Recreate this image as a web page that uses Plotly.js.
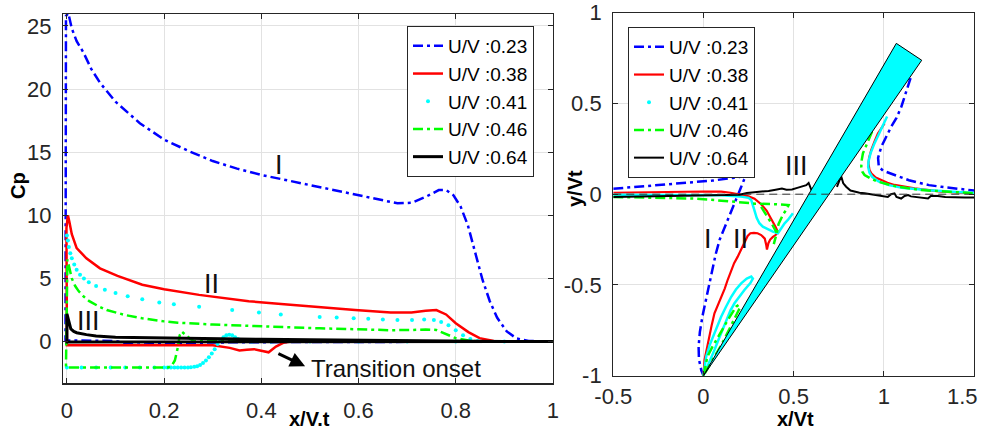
<!DOCTYPE html>
<html><head><meta charset="utf-8">
<script src="https://cdn.plot.ly/plotly-3.0.1.min.js"></script>
<style>html,body{margin:0;padding:0;background:#fff}#chart{width:982px;height:432px}</style>
</head><body><div id="chart"></div>
<script>
const seriesNames = ['U/V :0.23', 'U/V :0.38', 'U/V :0.41', 'U/V :0.46', 'U/V :0.64'];
const seriesColors = ['#0000ff', '#ff0000', '#00ffff', '#00ff00', '#000000'];

// ---- Left panel: Cp vs x/V.t ----
const leftXTicks = [0, 0.2, 0.4, 0.6, 0.8, 1];
const leftXTickText = ['0', '0.2', '0.4', '0.6', '0.8', '1'];
const leftYTicks = [0, 5, 10, 15, 20, 25];
const leftYTickText = ['0', '5', '10', '15', '20', '25'];

const cp023X = [1.0,0.9,0.8,0.6,0.45,0.35,0.25,0.18,0.14,0.1,0.05,0.0,-0.003,-0.002,0.003,0.01,0.02,0.034,0.05,0.068,0.1,0.15,0.2,0.25,0.3,0.35,0.4,0.45,0.5,0.55,0.6,0.64,0.68,0.71,0.74,0.765,0.78,0.795,0.81,0.825,0.84,0.855,0.87,0.885,0.905,0.925,0.95,0.98,1.0];
const cp023Y = [0,0,0,0,-0.05,-0.05,-0.1,-0.2,-0.25,0.05,0.1,0.1,0.1,25.8,26.0,24.8,23.8,22.9,21.6,20.5,19.0,17.3,16.0,15.1,14.3,13.7,13.2,12.8,12.4,12.0,11.6,11.3,10.95,11.0,11.5,12.0,12.0,11.6,10.7,9.2,7.0,4.9,3.2,1.9,0.8,0.25,0.05,0,0];

const cp038X = [1.0,0.6,0.46,0.445,0.43,0.415,0.40,0.385,0.37,0.355,0.335,0.315,0.3,0.2,0.1,0.0,-0.001,0.002,0.005,0.01,0.02,0.04,0.068,0.104,0.155,0.2,0.272,0.33,0.374,0.447,0.52,0.593,0.666,0.709,0.738,0.76,0.78,0.80,0.826,0.849,0.878,0.92,1.0];
const cp038Y = [0,0,0,-0.1,-0.4,-0.85,-0.7,-0.6,-0.65,-0.7,-0.5,-0.4,-0.3,-0.3,-0.3,-0.3,9.0,10.0,9.5,8.5,7.4,6.6,5.8,5.2,4.5,4.15,3.7,3.45,3.2,2.95,2.7,2.5,2.3,2.3,2.45,2.5,2.15,1.45,0.75,0.27,0.05,0,0];

const cp041UpX = [0.0,0.002,0.004,0.007,0.01,0.015,0.02,0.027,0.035,0.045,0.06,0.078,0.1,0.125,0.155,0.19,0.22,0.272,0.34,0.395,0.44,0.52,0.555,0.59,0.62,0.65,0.68,0.71,0.735,0.755,0.77,0.785,0.8,0.815,0.83,0.845];
const cp041UpY = [8.4,8.0,7.5,7.0,6.6,6.1,5.7,5.3,5.0,4.7,4.4,4.1,3.85,3.6,3.35,3.1,2.95,2.75,2.5,2.3,2.15,1.95,1.9,1.85,1.8,1.75,1.7,1.7,1.75,1.7,1.55,1.3,0.9,0.5,0.2,0.05];
const cp041LowX = [0.0,0.03,0.06,0.09,0.12,0.15,0.18,0.2,0.207,0.214,0.221,0.228,0.235,0.242,0.249,0.255,0.262,0.268,0.274,0.28,0.286,0.292,0.298,0.304,0.31,0.316,0.322,0.328,0.334,0.34,0.346,0.352,0.358,0.365,0.38,0.42,0.5,0.6,0.7,0.8,0.9];
const cp041LowY = [-2.05,-2.05,-2.05,-2.05,-2.05,-2.05,-2.05,-2.05,-2.05,-2.05,-2.05,-2.05,-2.05,-2.05,-2.05,-2.03,-2.0,-1.95,-1.85,-1.7,-1.5,-1.25,-0.95,-0.6,-0.2,0.1,0.35,0.5,0.55,0.5,0.35,0.2,0.1,0.05,0,0,0,0,0,0,0];

const cp046X = [1.0,0.6,0.3,0.262,0.254,0.246,0.24,0.236,0.232,0.228,0.222,0.215,0.208,0.15,0.1,0.05,-0.002,0.001,0.005,0.01,0.017,0.024,0.035,0.046,0.065,0.082,0.12,0.155,0.2,0.228,0.3,0.374,0.447,0.52,0.593,0.666,0.71,0.738,0.76,0.78,0.80,0.826,0.85,1.0];
const cp046Y = [0,0,0,0.02,0.2,0.45,0.7,0.8,0.5,-0.5,-1.5,-1.95,-2.05,-2.05,-2.05,-2.05,-2.05,6.5,5.8,5.0,4.4,4.0,3.55,3.2,2.8,2.5,2.1,1.85,1.6,1.5,1.35,1.23,1.15,1.05,0.98,0.9,0.92,0.96,0.92,0.6,0.27,0.08,0,0];

const cp064X = [1.0,0.5,0.1,0.0,0.0,0.004,0.008,0.014,0.02,0.04,0.06,0.1,0.2,0.3,0.4,0.5,0.6,0.7,0.8,0.9,1.0];
const cp064Y = [0,-0.02,-0.03,-0.03,2.2,1.5,1.0,0.8,0.7,0.55,0.45,0.35,0.28,0.22,0.18,0.14,0.1,0.06,0.03,0.01,0];

// ---- Right panel: y/Vt vs x/Vt ----
const rightXTicks = [-0.5, 0, 0.5, 1, 1.5];
const rightXTickText = ['-0.5', '0', '0.5', '1', '1.5'];
const rightYTicks = [-1, -0.5, 0, 0.5, 1];
const rightYTickText = ['-1', '-0.5', '0', '0.5', '1'];

const traj023X = [-0.5,-0.3,-0.1,0.05,0.15,0.2,0.24,0.225,0.205,0.18,0.15,0.12,0.09,0.068,0.048,0.03,0.013,-0.005,-0.02,-0.027,-0.025,-0.012,0.0,null,1.148,1.12,1.097,1.07,1.041,1.01,0.986,0.968,0.972,0.995,1.041,1.09,1.139,1.207,1.25,1.318,1.4,1.5];
const traj023Y = [0.03,0.045,0.06,0.075,0.088,0.095,0.11,0.08,0.03,-0.03,-0.1,-0.17,-0.25,-0.33,-0.42,-0.5,-0.58,-0.67,-0.76,-0.84,-0.91,-0.97,-1.0,null,0.64,0.56,0.482,0.42,0.372,0.31,0.262,0.2,0.152,0.13,0.114,0.095,0.077,0.06,0.05,0.041,0.03,0.02];

const traj038X = [-0.5,-0.3,-0.124,0.0,0.098,0.15,0.209,0.25,0.283,0.32,0.35,0.38,0.4,0.413,0.4,0.385,0.37,0.36,0.352,0.348,0.34,0.32,0.3,0.28,0.26,0.245,0.227,0.205,0.19,0.17,0.154,0.135,0.118,0.098,0.08,0.061,0.046,0.033,0.02,0.006,0.0,null,1.004,0.985,0.967,0.948,0.93,0.918,0.915,0.92,0.93,0.955,0.986,1.02,1.059,1.12,1.17,1.25,1.318,1.4,1.5];
const traj038Y = [0.008,0.012,0.014,0.015,0.014,0.008,-0.004,-0.012,-0.025,-0.055,-0.09,-0.14,-0.18,-0.21,-0.225,-0.235,-0.25,-0.27,-0.305,-0.28,-0.245,-0.225,-0.215,-0.213,-0.215,-0.23,-0.27,-0.32,-0.344,-0.38,-0.418,-0.47,-0.52,-0.565,-0.61,-0.656,-0.72,-0.785,-0.85,-0.913,-1.0,null,0.39,0.36,0.335,0.29,0.243,0.2,0.17,0.135,0.115,0.092,0.078,0.063,0.051,0.04,0.032,0.022,0.014,0.01,0.005];

const traj041X = [-0.5,-0.2,0.0,0.1,0.2,0.25,0.265,0.275,0.283,0.295,0.31,0.329,0.36,0.385,0.413,0.43,0.45,0.468,0.485,0.496,null,0.0,0.015,0.035,0.052,0.075,0.098,0.125,0.154,0.18,0.209,0.24,0.265,0.274,0.26,0.227,0.2,0.172,0.15,0.135,0.115,0.098,0.08,0.061,0.04,0.024,0.0,null,1.018,0.995,0.972,0.948,0.926,0.915,0.913,0.92,0.935,0.97,1.028,1.1,1.25,1.4,1.5];
const traj041Y = [-0.003,-0.003,-0.004,-0.006,-0.012,-0.02,-0.032,-0.06,-0.09,-0.13,-0.16,-0.179,-0.195,-0.206,-0.215,-0.19,-0.16,-0.142,-0.12,-0.105,null,-1.0,-0.895,-0.83,-0.785,-0.73,-0.675,-0.62,-0.565,-0.525,-0.491,-0.465,-0.454,-0.465,-0.49,-0.528,-0.565,-0.601,-0.64,-0.675,-0.72,-0.766,-0.81,-0.858,-0.905,-0.95,-1.0,null,0.428,0.38,0.336,0.28,0.225,0.18,0.151,0.12,0.096,0.07,0.05,0.035,0.022,0.012,0.007];

const traj046X = [-0.5,-0.3,-0.046,0.139,0.287,0.398,0.472,0.46,0.444,0.43,0.417,0.41,0.407,0.398,0.39,null,0.32,0.35,0.38,0.405,null,0.0,0.022,0.05,0.08,0.108,0.135,0.16,0.181,0.195,0.2,0.185,0.16,0.13,0.1,0.07,0.04,0.0,null,0.935,0.915,0.898,0.884,0.876,0.875,0.88,0.893,0.93,0.967,1.02,1.078,1.207,1.355,1.5];
const traj046Y = [-0.015,-0.018,-0.024,-0.039,-0.052,-0.055,-0.06,-0.085,-0.107,-0.135,-0.162,-0.19,-0.218,-0.245,-0.275,null,-0.07,-0.115,-0.165,-0.21,null,-1.0,-0.895,-0.84,-0.785,-0.74,-0.693,-0.655,-0.62,-0.61,-0.63,-0.66,-0.71,-0.77,-0.83,-0.88,-0.935,-1.0,null,0.345,0.3,0.262,0.225,0.18,0.152,0.125,0.106,0.085,0.069,0.055,0.041,0.023,0.014,0.005];

const traj064X = [-0.5,-0.3,-0.1,0.1,0.2,0.241,0.3,0.361,0.4,0.435,0.46,0.491,0.52,0.546,0.57,0.583,0.593,0.6,null,0.74,0.755,0.763,0.775,0.791,0.815,0.837,0.865,0.893,0.93,0.967,1.0,1.022,1.04,1.059,1.07,1.096,1.115,1.134,1.15,1.17,1.2,1.245,1.26,1.3,1.34,1.39,1.45,1.5];
const traj064Y = [-0.015,-0.012,-0.01,-0.006,-0.003,0.007,0.012,0.018,0.025,0.031,0.025,0.026,0.035,0.044,0.05,0.062,0.03,0.02,null,0.04,0.08,0.1,0.06,0.041,0.02,0.014,0.008,0.005,0.0,-0.005,-0.01,-0.015,0.0,0.005,-0.015,-0.024,-0.01,-0.005,-0.012,-0.015,-0.018,-0.024,-0.01,-0.01,-0.016,-0.018,-0.018,-0.018];

const bladeX = [0, 1.069, 1.21, 0];
const bladeY = [-1, 0.831, 0.738, -1];
const refLineX = [-0.5, 1.5];
const refLineY = [0, 0];

const FONT = 'Liberation Sans, Arial, sans-serif';
const dashDot = '10px,4px,3px,4px';

function lineTrace(x, y, i, axes, legendId, width, dash, showLegend) {
  return {
    type: 'scatter', mode: 'lines', x: x, y: y, name: seriesNames[i],
    xaxis: axes[0], yaxis: axes[1], legend: legendId, showlegend: showLegend,
    connectgaps: false,
    line: {color: seriesColors[i], width: width, dash: dash}
  };
}

const L = ['x', 'y'], R = ['x2', 'y2'];
const traces = [
  lineTrace(cp023X, cp023Y, 0, L, 'legend', 2.5, dashDot, true),
  lineTrace(cp038X, cp038Y, 1, L, 'legend', 2.5, 'solid', true),
  {type: 'scatter', mode: 'markers', x: cp041UpX.concat(cp041LowX), y: cp041UpY.concat(cp041LowY),
   name: seriesNames[2], xaxis: 'x', yaxis: 'y', legend: 'legend', showlegend: true,
   marker: {color: seriesColors[2], size: 4, line: {width: 0}}},
  lineTrace(cp046X, cp046Y, 3, L, 'legend', 2.5, dashDot, true),
  lineTrace(cp064X, cp064Y, 4, L, 'legend', 3, 'solid', true),

  lineTrace(traj023X, traj023Y, 0, R, 'legend2', 2.5, dashDot, true),
  lineTrace(traj038X, traj038Y, 1, R, 'legend2', 2.2, 'solid', true),
  lineTrace(traj041X, traj041Y, 2, R, 'legend2', 2.5, 'solid', false),
  {type: 'scatter', mode: 'markers', x: [null], y: [null], name: seriesNames[2],
   xaxis: 'x2', yaxis: 'y2', legend: 'legend2', showlegend: true,
   marker: {color: seriesColors[2], size: 4, line: {width: 0}}},
  lineTrace(traj046X, traj046Y, 3, R, 'legend2', 2.5, dashDot, true),
  lineTrace(traj064X, traj064Y, 4, R, 'legend2', 2, 'solid', true),
  {type: 'scatter', mode: 'lines', x: bladeX, y: bladeY, xaxis: 'x2', yaxis: 'y2',
   fill: 'toself', fillcolor: '#00ffff', line: {color: '#000000', width: 1}, showlegend: false, name: 'blade'},
  {type: 'scatter', mode: 'lines', x: refLineX, y: refLineY, xaxis: 'x2', yaxis: 'y2',
   line: {color: '#333333', width: 1, dash: '8px,5px'}, showlegend: false, name: 'ref'}
];

const tickFont = {family: FONT, size: 22, color: '#262626'};
const axisCommon = {
  showline: true, linecolor: '#262626', linewidth: 1.2, mirror: 'ticks',
  ticks: 'inside', ticklen: 5, tickwidth: 1, tickcolor: '#262626',
  showgrid: true, gridcolor: '#e2e2e2', gridwidth: 1, zeroline: false,
  tickfont: tickFont, tickmode: 'array'
};

const legendCommon = {
  xanchor: 'left', yanchor: 'top', bgcolor: '#ffffff', bordercolor: '#262626', borderwidth: 1,
  font: {family: FONT, size: 19, color: '#000000'}, tracegroupgap: 0
};

const titleFont = {family: FONT, size: 20, color: '#000000', weight: 'bold'};
const labelFont = {family: FONT, size: 27, color: '#111111'};

// last right-panel x tick label sits against the figure edge: drawn as text aligned inside the figure
const rightXTickTextShown = rightXTickText.map((t, i) => i === rightXTickText.length - 1 ? '' : t);

const layout = {
  width: 982, height: 432,
  margin: {l: 0, r: 0, t: 0, b: 0},
  paper_bgcolor: '#ffffff', plot_bgcolor: '#ffffff',
  showlegend: true,
  xaxis: Object.assign({}, axisCommon, {domain: [0.0642, 0.5631], range: [-0.008, 1.0], anchor: 'y',
    tickvals: leftXTicks, ticktext: leftXTickText, ticklabelstandoff: 7}),
  yaxis: Object.assign({}, axisCommon, {domain: [0.1123, 0.9676], range: [-3.32, 25.95], anchor: 'x',
    tickvals: leftYTicks, ticktext: leftYTickText, ticklabelstandoff: 6}),
  xaxis2: Object.assign({}, axisCommon, {domain: [0.6245, 0.9919], range: [-0.5, 1.5], anchor: 'y2',
    tickvals: rightXTicks, ticktext: rightXTickTextShown, ticklabelstandoff: 1}),
  yaxis2: Object.assign({}, axisCommon, {domain: [0.1303, 0.9706], range: [-1, 1], anchor: 'x2',
    tickvals: rightYTicks, ticktext: rightYTickText, ticklabelstandoff: 6}),
  legend: Object.assign({}, legendCommon, {x: 407 / 982, y: 1 - 26 / 432}),
  legend2: Object.assign({}, legendCommon, {x: 628 / 982, y: 1 - 27 / 432}),
  annotations: [
    {xref: 'x', yref: 'paper', x: 0.5, y: 0, xanchor: 'center', yanchor: 'bottom', text: 'x/V.t', showarrow: false, font: titleFont},
    {xref: 'paper', yref: 'paper', x: 18 / 982, y: 1 - 186 / 432, xanchor: 'center', yanchor: 'middle', text: 'Cp', textangle: -90, showarrow: false, font: titleFont},
    {xref: 'x2', yref: 'paper', x: 0.5, y: 0, xanchor: 'center', yanchor: 'bottom', xshift: 2, text: 'x/Vt', showarrow: false, font: titleFont},
    {xref: 'paper', yref: 'paper', x: 575 / 982, y: 1 - 189 / 432, xanchor: 'center', yanchor: 'middle', text: 'y/Vt', textangle: -90, showarrow: false, font: titleFont},
    {xref: 'x2', yref: 'paper', x: rightXTicks[rightXTicks.length - 1], y: 1 - 396 / 432, xanchor: 'right', yanchor: 'middle', xshift: 6,
     text: rightXTickText[rightXTickText.length - 1], showarrow: false, font: tickFont},
    {xref: 'x', yref: 'y', x: 0.436, y: 14.0, text: 'I', showarrow: false, font: labelFont},
    {xref: 'x', yref: 'y', x: 0.297, y: 4.6, text: 'II', showarrow: false, font: labelFont},
    {xref: 'x', yref: 'y', x: 0.045, y: 1.65, text: 'III', showarrow: false, font: labelFont},
    {xref: 'x2', yref: 'y2', x: 0.515, y: 0.157, text: 'III', showarrow: false, font: labelFont},
    {xref: 'x2', yref: 'y2', x: 0.026, y: -0.245, text: 'I', showarrow: false, font: labelFont},
    {xref: 'x2', yref: 'y2', x: 0.207, y: -0.245, text: 'II', showarrow: false, font: labelFont},
    {xref: 'x', yref: 'y', x: 0.498, y: -2.1, xanchor: 'left', yanchor: 'middle', text: 'Transition onset', showarrow: false,
     font: {family: FONT, size: 24, color: '#111111'}},
    {xref: 'x', yref: 'y', x: 0.49, y: -1.95, axref: 'x', ayref: 'y', ax: 0.432, ay: -0.9, text: '', showarrow: true,
     arrowhead: 2, arrowsize: 1, arrowwidth: 3, arrowcolor: '#000000', standoff: 0, startstandoff: 0}
  ]
};

Plotly.newPlot('chart', traces, layout, {staticPlot: true, displayModeBar: false});
</script>
</body></html>
